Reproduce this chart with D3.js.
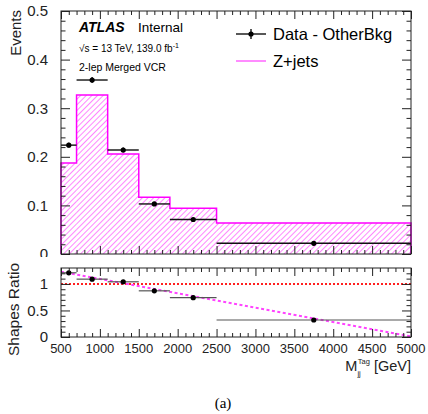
<!DOCTYPE html>
<html>
<head>
<meta charset="utf-8">
<script src="https://cdn.jsdelivr.net/npm/d3@7"></script>
<style>
  body { margin: 0; background: #fff; }
  svg { display: block; font-family: "Liberation Sans", Arial, Helvetica, sans-serif; }
</style>
</head>
<body>
<svg id="chart" width="428" height="414"></svg>
<script>
// Bin edges of M_jj^Tag [GeV]
const binEdges = [500, 700, 1100, 1500, 1900, 2500, 5000];
// Z+jets normalised shape
const zjets = [0.187, 0.327, 0.206, 0.117, 0.094, 0.064];
// Data - OtherBkg normalised shape
const dataVals = [0.224, 0.358, 0.214, 0.103, 0.071, 0.022];
const dataErr = [0.005, 0.006, 0.005, 0.003, 0.003, 0.002];
// Shapes ratio
const ratioVals = [1.21, 1.09, 1.04, 0.87, 0.74, 0.32];
const ratioErr = [0.02, 0.02, 0.02, 0.02, 0.02, 0.02];
// linear fit of the ratio
const fitX = [500, 5000];
const fitY = [1.23, 0.01];

const xTickVals = [500, 1000, 1500, 2000, 2500, 3000, 3500, 4000, 4500, 5000];
const yTopTicks = [0, 0.1, 0.2, 0.3, 0.4, 0.5];
const yTopLabels = ['0', '0.1', '0.2', '0.3', '0.4', '0.5'];
const yRatTicks = [0, 0.5, 1];
const yRatLabels = ['0', '0.5', '1'];

const svg = d3.select('#chart');
const left = 61, right = 411;
const x = d3.scaleLinear().domain([500, 5000]).range([left, right]);
const yTop = d3.scaleLinear().domain([0, 0.5]).range([254, 11]);
const yRat = d3.scaleLinear().domain([0, 1.3]).range([337, 268]);

const xMinor = d3.range(500, 5001, 100).filter(v => v % 500 !== 0);

// hatch pattern
const defs = svg.append('defs');
defs.append('pattern')
    .attr('id', 'hatch').attr('patternUnits', 'userSpaceOnUse')
    .attr('width', 4).attr('height', 4)
    .attr('patternTransform', 'rotate(45)')
    .append('line')
    .attr('x1', 0).attr('y1', 0).attr('x2', 0).attr('y2', 4)
    .attr('stroke', '#ff33ff').attr('stroke-width', 1.2);

// ---------- upper panel ----------
const upper = svg.append('g');

const bins = zjets.map((v, i) => ({ x0: binEdges[i], x1: binEdges[i + 1], v }));

upper.selectAll('rect.fill').data(bins).enter().append('rect')
    .attr('x', d => x(d.x0))
    .attr('y', d => yTop(d.v))
    .attr('width', d => x(d.x1) - x(d.x0))
    .attr('height', d => yTop(0) - yTop(d.v))
    .attr('fill', 'url(#hatch)');

// histogram outline
const stepPts = [[binEdges[0], 0]];
bins.forEach(d => { stepPts.push([d.x0, d.v]); stepPts.push([d.x1, d.v]); });
stepPts.push([binEdges[binEdges.length - 1], 0]);
upper.append('path')
    .datum(stepPts)
    .attr('d', d3.line().x(d => x(d[0])).y(d => yTop(d[1])))
    .attr('fill', 'none').attr('stroke', '#ff00ff').attr('stroke-width', 1.5);

// data points
const pts = dataVals.map((v, i) => ({ x0: binEdges[i], x1: binEdges[i + 1], v, e: dataErr[i] }));
upper.selectAll('line.hx').data(pts).enter().append('line')
    .attr('x1', d => x(d.x0)).attr('x2', d => x(d.x1))
    .attr('y1', d => yTop(d.v)).attr('y2', d => yTop(d.v))
    .attr('stroke', '#111').attr('stroke-width', 1.4);
upper.selectAll('line.vy').data(pts).enter().append('line')
    .attr('x1', d => x((d.x0 + d.x1) / 2)).attr('x2', d => x((d.x0 + d.x1) / 2))
    .attr('y1', d => yTop(d.v - d.e)).attr('y2', d => yTop(d.v + d.e))
    .attr('stroke', '#111').attr('stroke-width', 1.4);
upper.selectAll('circle').data(pts).enter().append('circle')
    .attr('cx', d => x((d.x0 + d.x1) / 2)).attr('cy', d => yTop(d.v))
    .attr('r', 2.6).attr('fill', '#000');

// frame and ticks
function frame(g, yScale, majorY, minorY, labels, yLabFs) {
    const y0 = yScale.range()[0], y1 = yScale.range()[1];
    g.append('rect').attr('x', left).attr('y', y1).attr('width', right - left).attr('height', y0 - y1)
        .attr('fill', 'none').attr('stroke', '#222').attr('stroke-width', 1);
    const tk = (axis, tr) => {
        const a = g.append('g').attr('transform', tr).call(axis);
        a.select('.domain').remove();
        a.selectAll('line').attr('stroke', '#222');
        return a;
    };
    tk(d3.axisBottom(x).tickValues(xTickVals).tickSize(-8).tickFormat(''), `translate(0,${y0})`);
    tk(d3.axisBottom(x).tickValues(xMinor).tickSize(-4).tickFormat(''), `translate(0,${y0})`);
    tk(d3.axisTop(x).tickValues(xTickVals).tickSize(-8).tickFormat(''), `translate(0,${y1})`);
    tk(d3.axisTop(x).tickValues(xMinor).tickSize(-4).tickFormat(''), `translate(0,${y1})`);
    const ly = tk(d3.axisLeft(yScale).tickValues(majorY).tickSize(-9).tickPadding(13)
        .tickFormat((d, i) => labels[i]), `translate(${left},0)`);
    ly.selectAll('text').attr('font-size', yLabFs).attr('fill', '#222')
        .attr('font-family', '"Liberation Sans", Arial, sans-serif');
    tk(d3.axisLeft(yScale).tickValues(minorY).tickSize(-4.5).tickFormat(''), `translate(${left},0)`);
    tk(d3.axisRight(yScale).tickValues(majorY).tickSize(-9).tickFormat(''), `translate(${right},0)`);
    tk(d3.axisRight(yScale).tickValues(minorY).tickSize(-4.5).tickFormat(''), `translate(${right},0)`);
}
frame(upper, yTop, yTopTicks, d3.range(0.02, 0.5, 0.02).filter(v => Math.abs(v * 10 - Math.round(v * 10)) > 1e-6),
    yTopLabels, 15);

// labels
upper.append('text').attr('x', 79).attr('y', 32).attr('font-size', 14)
    .attr('font-weight', 'bold').attr('font-style', 'italic').text('ATLAS');
upper.append('text').attr('x', 138).attr('y', 32).attr('font-size', 13.5).text('Internal');
const rs = upper.append('text').attr('x', 79).attr('y', 52).attr('font-size', 10);
rs.append('tspan').text('√s = 13 TeV, 139.0 fb');
rs.append('tspan').attr('dy', -4).attr('font-size', 7).text('-1');
upper.append('text').attr('x', 79).attr('y', 71).attr('font-size', 10.5).text('2-lep Merged VCR');

// legend
const lg = upper.append('g');
lg.append('line').attr('x1', 236).attr('x2', 266).attr('y1', 34).attr('y2', 34).attr('stroke', '#111').attr('stroke-width', 1.4);
lg.append('line').attr('x1', 251).attr('x2', 251).attr('y1', 29).attr('y2', 39).attr('stroke', '#111').attr('stroke-width', 1.4);
lg.append('circle').attr('cx', 251).attr('cy', 34).attr('r', 2.6).attr('fill', '#000');
lg.append('text').attr('x', 273).attr('y', 40).attr('font-size', 16.5).text('Data - OtherBkg');
lg.append('line').attr('x1', 236).attr('x2', 266).attr('y1', 61).attr('y2', 61).attr('stroke', '#ff66ff').attr('stroke-width', 1.5);
lg.append('text').attr('x', 273).attr('y', 67).attr('font-size', 16.5).text('Z+jets');

svg.append('text').attr('transform', 'translate(20.5,10) rotate(-90)')
    .attr('text-anchor', 'end').attr('font-size', 15).attr('fill', '#222').text('Events');

// ---------- lower panel ----------
svg.append('rect').attr('x', 0).attr('y', 257).attr('width', 428).attr('height', 157).attr('fill', '#fff');
const bot = svg.append('g');

bot.append('line').attr('x1', left).attr('x2', right).attr('y1', yRat(1)).attr('y2', yRat(1))
    .attr('stroke', '#ff2020').attr('stroke-width', 2).attr('stroke-dasharray', '2,2');
bot.append('path')
    .datum(fitX.map((v, i) => [v, fitY[i]]))
    .attr('d', d3.line().x(d => x(d[0])).y(d => yRat(d[1])))
    .attr('stroke', '#ff44ff').attr('stroke-width', 2).attr('stroke-dasharray', '3,2.5').attr('fill', 'none');

const rpts = ratioVals.map((v, i) => ({ x0: binEdges[i], x1: binEdges[i + 1], v, e: ratioErr[i] }));
bot.selectAll('line.hx').data(rpts).enter().append('line')
    .attr('x1', d => x(d.x0)).attr('x2', d => x(d.x1))
    .attr('y1', d => yRat(d.v)).attr('y2', d => yRat(d.v))
    .attr('stroke', '#555').attr('stroke-width', 1.2);
bot.selectAll('line.vy').data(rpts).enter().append('line')
    .attr('x1', d => x((d.x0 + d.x1) / 2)).attr('x2', d => x((d.x0 + d.x1) / 2))
    .attr('y1', d => yRat(d.v - d.e)).attr('y2', d => yRat(d.v + d.e))
    .attr('stroke', '#333').attr('stroke-width', 1.2);
bot.selectAll('circle').data(rpts).enter().append('circle')
    .attr('cx', d => x((d.x0 + d.x1) / 2)).attr('cy', d => yRat(d.v))
    .attr('r', 2.6).attr('fill', '#000');

frame(bot, yRat, yRatTicks, d3.range(0.1, 1.3, 0.1).filter(v => Math.abs(v * 2 - Math.round(v * 2)) > 1e-6),
    yRatLabels, 15);

// x tick labels
bot.selectAll('text.xl').data(xTickVals).enter().append('text')
    .attr('x', d => x(d)).attr('y', 352.5).attr('text-anchor', 'middle')
    .attr('font-size', 13).attr('fill', '#222').text(d => d);

// x title
const xt = bot.append('text').attr('x', right).attr('y', 371).attr('text-anchor', 'end')
    .attr('font-size', 14.5).attr('fill', '#222');
xt.append('tspan').text('M');
xt.append('tspan').attr('font-size', 7.5).attr('dy', 5).text('jj');
xt.append('tspan').attr('font-size', 7.5).attr('dx', -3).attr('dy', -12).text('Tag');
xt.append('tspan').attr('dy', 7).text(' [GeV]');

svg.append('text').attr('transform', 'translate(18.5,263) rotate(-90)')
    .attr('text-anchor', 'end').attr('font-size', 15.5).attr('fill', '#222').text('Shapes Ratio');

svg.append('text').attr('x', 223).attr('y', 408).attr('text-anchor', 'middle')
    .attr('font-family', '"Liberation Serif", "Times New Roman", serif').attr('font-size', 15).text('(a)');
</script>
</body>
</html>
